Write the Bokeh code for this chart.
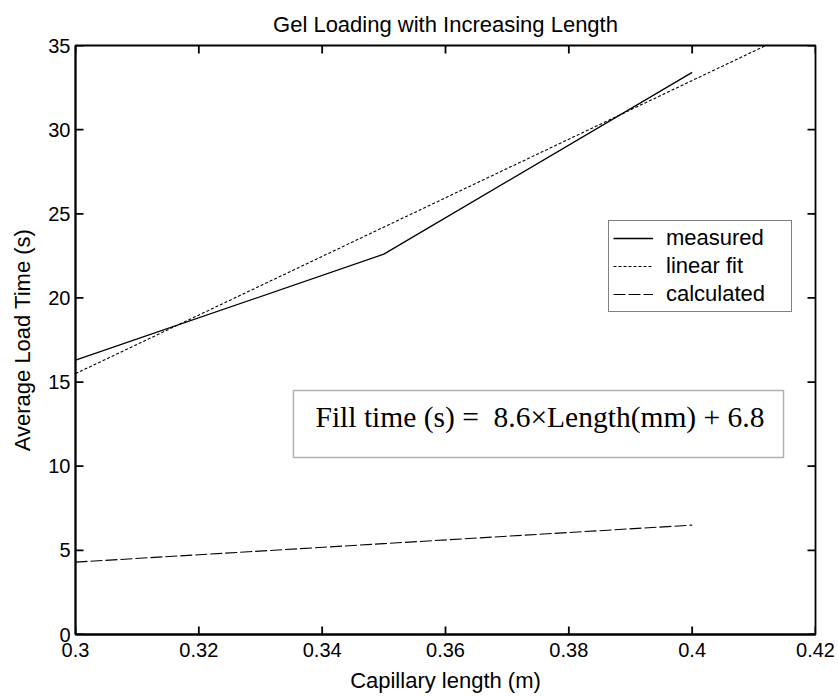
from bokeh.plotting import figure
from bokeh.models import (FixedTicker, Legend, LegendItem, BoxAnnotation, Label, Range1d)
from bokeh.embed import file_html
from bokeh.resources import INLINE

# ---- data ----
x_measured = [0.30, 0.35, 0.40]
y_measured = [16.3, 22.6, 33.4]
x_fit = [0.30, 0.42]
y_fit = [15.5, 36.4]
x_calc = [0.30, 0.35, 0.40]
y_calc = [4.3, 5.4, 6.5]
x_ticks = [0.30, 0.32, 0.34, 0.36, 0.38, 0.40, 0.42]
x_tick_labels = ["0.3", "0.32", "0.34", "0.36", "0.38", "0.4", "0.42"]
y_ticks = [0, 5, 10, 15, 20, 25, 30, 35]
series_names = ["measured", "linear fit", "calculated"]
title_text = "Gel Loading with Increasing Length"
x_label = "Capillary length (m)"
y_label = "Average Load Time (s)"
equation_text = "Fill time (s) =\u00a0 8.6\u00d7Length(mm) + 6.8"

SANS = "Liberation Sans"
SERIF = "Liberation Serif"
X0, X1 = 0.30, 0.42
Y0, Y1 = 0.0, 35.0
FRAME_W, FRAME_H = 740.0, 589.0

p = figure(width=838, height=696, output_backend="svg", toolbar_location=None,
           x_range=Range1d(X0, X1), y_range=Range1d(Y0, Y1),
           min_border_left=75, min_border_right=23, min_border_top=45,
           min_border_bottom=62)
p.background_fill_color = "white"
p.border_fill_color = "white"
p.outline_line_color = "black"
p.outline_line_width = 1.8
p.grid.visible = False

p.title.text = title_text
p.title.text_font = SANS
p.title.text_font_size = "22px"
p.title.text_font_style = "normal"
p.title.text_color = "black"
p.title.align = "center"
p.title.standoff = 17

xb = p.xaxis[0]
xb.ticker = FixedTicker(ticks=x_ticks)
xb.major_label_overrides = dict(zip(x_ticks, x_tick_labels))
yl = p.yaxis[0]
yl.ticker = FixedTicker(ticks=y_ticks)
for ax in (xb, yl):
    ax.major_tick_in = 0
    ax.major_tick_out = 0
    ax.minor_tick_line_color = None
    ax.axis_line_width = 1.8
    ax.axis_line_color = "black"
    ax.major_label_text_font = SANS
    ax.major_label_text_font_size = "20px"
    ax.major_label_text_color = "black"
    ax.axis_label_text_font = SANS
    ax.axis_label_text_font_size = "22px"
    ax.axis_label_text_font_style = "normal"
    ax.axis_label_text_color = "black"
xb.axis_label = x_label
yl.axis_label = y_label
xb.major_label_standoff = 8
yl.major_label_standoff = 5
xb.axis_label_standoff = 8
yl.axis_label_standoff = 10

# inward tick marks on all four sides, drawn as one broken polyline (NaN gaps)
TL = 8.0
dy = (Y1 - Y0) * TL / FRAME_H
dx = (X1 - X0) * TL / FRAME_W
ey = (Y1 - Y0) * 0.5 / FRAME_H
ex = (X1 - X0) * 0.5 / FRAME_W
nan = float("nan")
tick_xs, tick_ys = [], []
for t in x_ticks:
    tick_xs += [t, t, nan, t, t, nan]
    tick_ys += [Y0 + ey, Y0 + dy, nan, Y1 - ey, Y1 - dy, nan]
for t in y_ticks:
    tick_xs += [X0 + ex, X0 + dx, nan, X1 - ex, X1 - dx, nan]
    tick_ys += [t, t, nan, t, t, nan]
p.line(tick_xs, tick_ys, line_color="black", line_width=1.8)

r_meas = p.line(x_measured, y_measured, line_color="black", line_width=1.3)
r_fit = p.line(x_fit, y_fit, line_color="black", line_width=1.1, line_dash="3 2")
r_calc = p.line(x_calc, y_calc, line_color="black", line_width=1.1, line_dash="12 3")

legend = Legend(items=[LegendItem(label=series_names[0], renderers=[r_meas]),
                       LegendItem(label=series_names[1], renderers=[r_fit]),
                       LegendItem(label=series_names[2], renderers=[r_calc])],
                location=(533, 322), orientation="vertical")
legend.label_text_font = SANS
legend.label_text_font_size = "22px"
legend.label_text_color = "black"
legend.glyph_width = 40
legend.glyph_height = 24
legend.label_height = 24
legend.label_width = 121
legend.label_standoff = 13
legend.spacing = 2
legend.padding = 4
legend.margin = 0
legend.border_line_color = "black"
legend.border_line_width = 1.3
legend.background_fill_color = "white"
legend.background_fill_alpha = 1
p.add_layout(legend, "center")

box = BoxAnnotation(left=0.33535, right=0.41481, bottom=10.52, top=14.50,
                    fill_color="white", fill_alpha=1, line_color="black", line_width=1.5)
p.add_layout(box)
eq = Label(x=0.33892, y=12.9, text=equation_text, text_font=SERIF, text_font_size="29.5px",
           text_baseline="middle", text_align="left", text_color="black")
p.add_layout(eq)

open("out.html", "w").write(file_html(p, INLINE))
